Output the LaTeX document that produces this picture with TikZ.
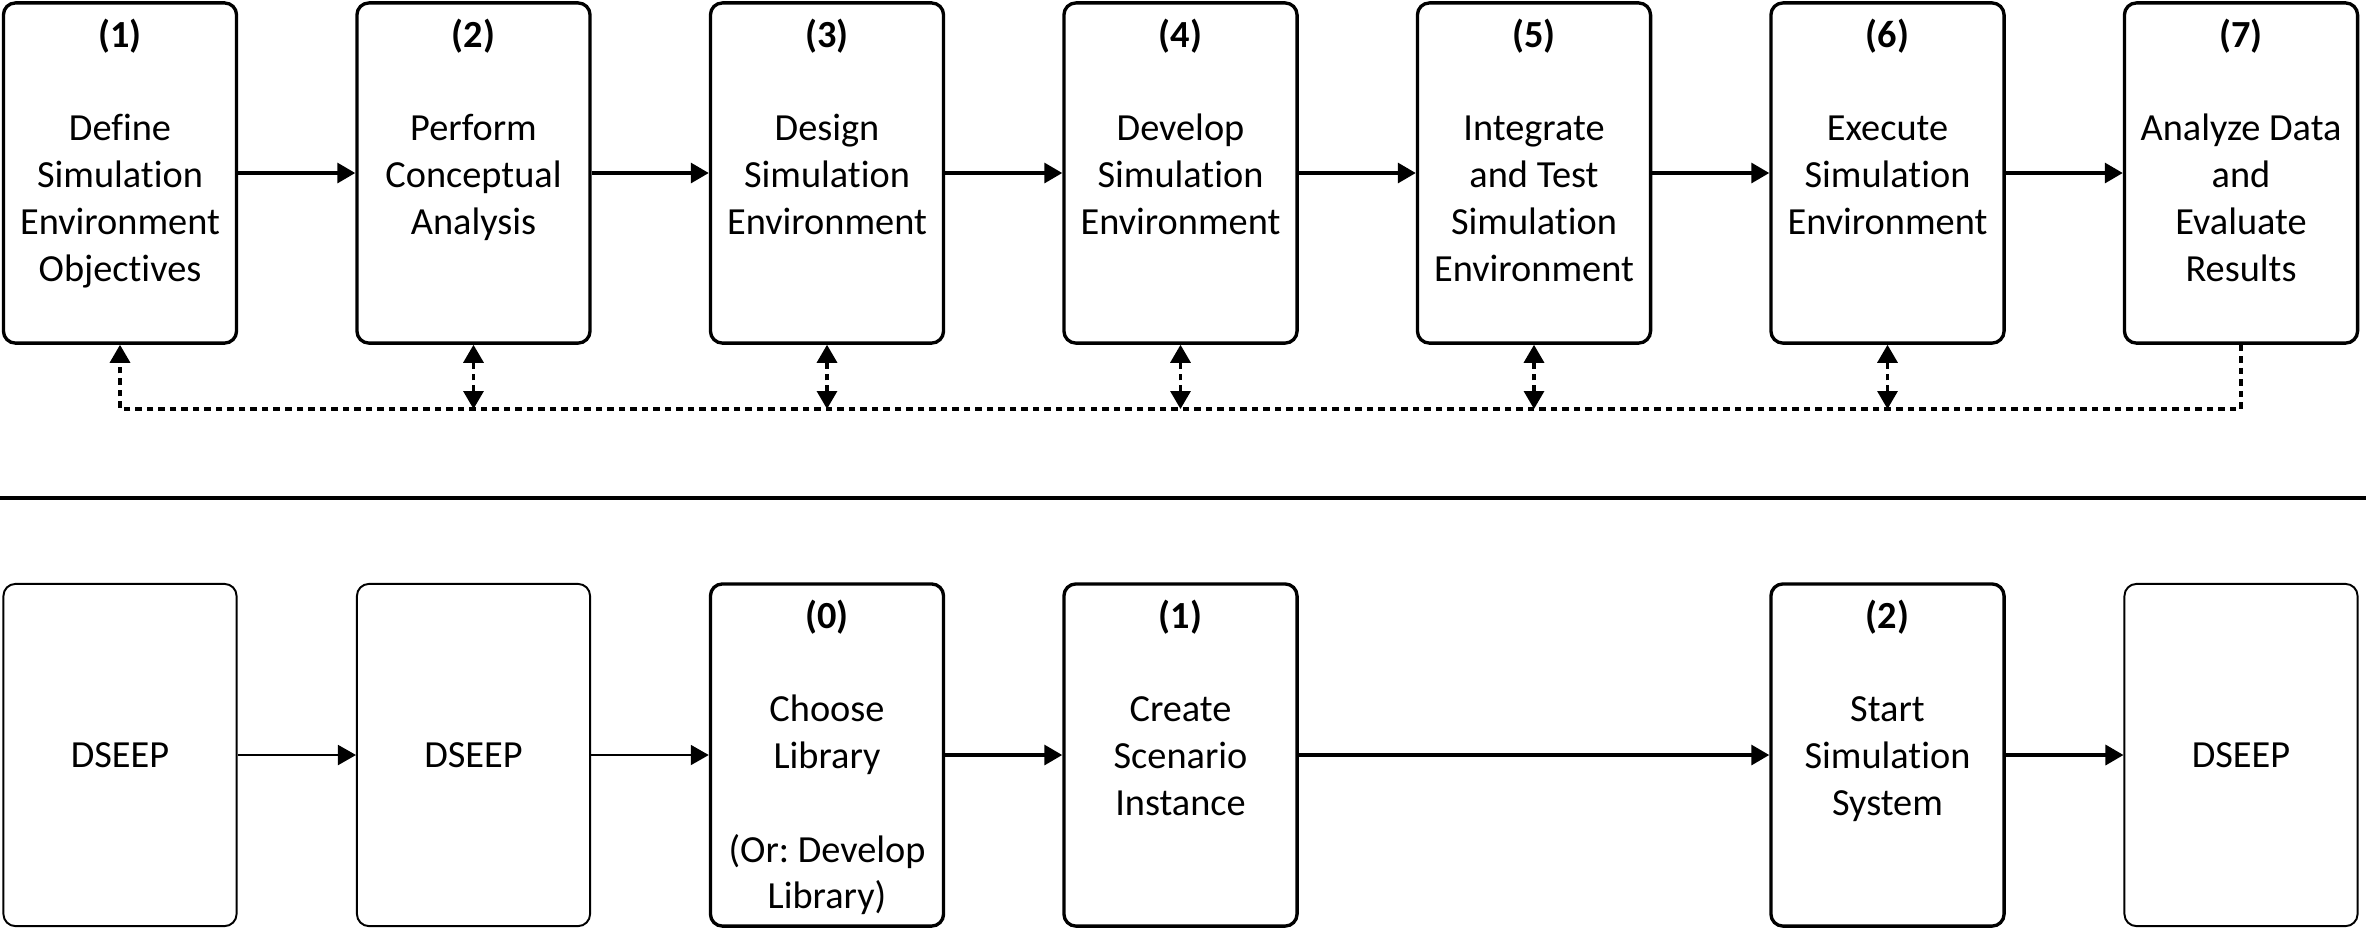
\documentclass[tikz,border=0pt]{standalone}
\usepackage{fontspec}
\setmainfont{Carlito}[RawFeature=-liga, RawFeature=-clig, RawFeature=-calt]
\usetikzlibrary{arrows.meta}
\frenchspacing
\newcommand{\bxtxt}[2]{\parbox[c][#1][t]{2.33cm}{\centering\vspace*{0.16cm}#2}}
\newcommand{\gapline}{\\[13.29pt]}
\newcommand{\nl}{\kern0pt}
\newcommand{\simword}{Simulat\nl ion}
\begin{document}
\begin{tikzpicture}[x=0.01cm,y=-0.01cm,
  every node/.style={font=\fontsize{10.9pt}{13.29pt}\selectfont},
  stepbox/.style={draw, line width=0.95pt, rounded corners=0.12cm, inner sep=0pt, minimum width=2.33cm},
  thinbox/.style={stepbox, line width=0.55pt},
  arr/.style={-{Triangle[length=0.18cm,width=0.2cm]}, line width=0.95pt},
  thinarr/.style={arr, line width=0.55pt},
  fb/.style={line width=0.9pt, dash pattern=on 0.065cm off 0.05cm},
  fbone/.style={fb, -{Triangle[length=0.18cm,width=0.2cm]}},
  fbtwo/.style={fb, {Triangle[length=0.18cm,width=0.2cm]}-{Triangle[length=0.18cm,width=0.2cm]}}]
\useasboundingbox (0,0) rectangle (2369,929);

% top row
\node[stepbox] (a1) at (120,173) {\bxtxt{3.4cm}{\textbf{(1)}\gapline Define\\\simword\\Environment\\Object\nl ives}};
\node[stepbox] (a2) at (473.5,173) {\bxtxt{3.4cm}{\textbf{(2)}\gapline Perform\\Conceptual\\Analysis}};
\node[stepbox] (a3) at (827,173) {\bxtxt{3.4cm}{\textbf{(3)}\gapline Design\\\simword\\Environment}};
\node[stepbox] (a4) at (1180.5,173) {\bxtxt{3.4cm}{\textbf{(4)}\gapline Develop\\\simword\\Environment}};
\node[stepbox] (a5) at (1534,173) {\bxtxt{3.4cm}{\textbf{(5)}\gapline Integrate\\and Test\\\simword\\Environment}};
\node[stepbox] (a6) at (1887.5,173) {\bxtxt{3.4cm}{\textbf{(6)}\gapline Execute\\\simword\\Environment}};
\node[stepbox] (a7) at (2241,173) {\bxtxt{3.4cm}{\textbf{(7)}\gapline Analyze Data\\and\\Evaluate\\Results}};

\draw[arr] (a1) -- (a2);
\draw[arr] (a2) -- (a3);
\draw[arr] (a3) -- (a4);
\draw[arr] (a4) -- (a5);
\draw[arr] (a5) -- (a6);
\draw[arr] (a6) -- (a7);

% feedback
\coordinate (fy) at (0,409);
\draw[fbone] (a7.south) -- (a7.south |- fy) -- (a1.south |- fy) -- (a1.south);
\draw[fbtwo] (a2.south |- fy) -- (a2.south);
\draw[fbtwo] (a3.south |- fy) -- (a3.south);
\draw[fbtwo] (a4.south |- fy) -- (a4.south);
\draw[fbtwo] (a5.south |- fy) -- (a5.south);
\draw[fbtwo] (a6.south |- fy) -- (a6.south);

% separator
\coordinate (sl) at (0,498);
\coordinate (sr) at (2366,498);
\draw[line width=0.95pt] (sl) -- (sr);

% bottom row
\node[thinbox] (d1) at (120,755) {\parbox[c][3.42cm][c]{2.33cm}{\centering DSEEP}};
\node[thinbox] (d2) at (473.5,755) {\parbox[c][3.42cm][c]{2.33cm}{\centering DSEEP}};
\node[stepbox] (b0) at (827,755) {\bxtxt{3.42cm}{\textbf{(0)}\gapline Choose\\Library\gapline (Or: Develop\\Library)}};
\node[stepbox] (b1) at (1180.5,755) {\bxtxt{3.42cm}{\textbf{(1)}\gapline Create\\Scenario\\Instance}};
\node[stepbox] (b2) at (1887.5,755) {\bxtxt{3.42cm}{\textbf{(2)}\gapline Start\\\simword\\System}};
\node[thinbox] (d3) at (2241,755) {\parbox[c][3.42cm][c]{2.33cm}{\centering DSEEP}};

\draw[thinarr] (d1) -- (d2);
\draw[thinarr] (d2) -- (b0);
\draw[arr] (b0) -- (b1);
\draw[arr] (b1) -- (b2);
\draw[arr] (b2) -- (d3);
\end{tikzpicture}
\end{document}
